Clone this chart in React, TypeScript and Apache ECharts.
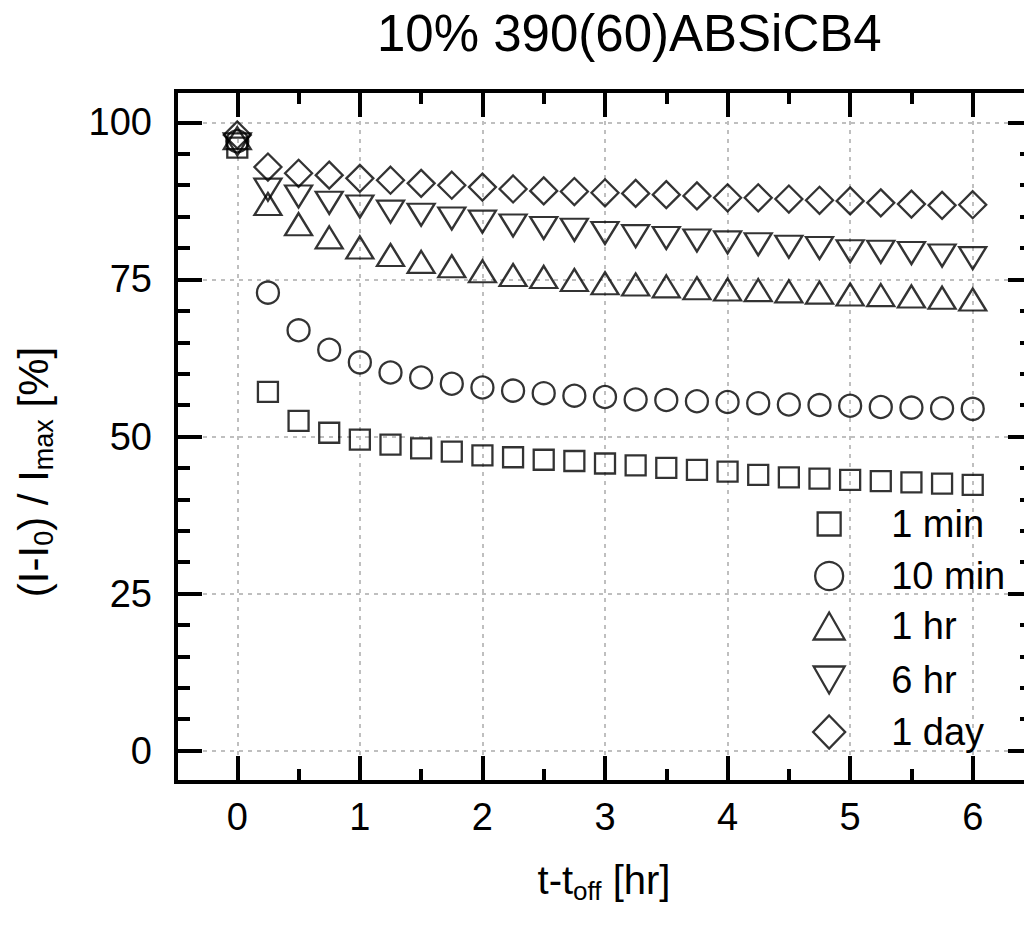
import React, { useEffect, useRef } from "react";
import * as echarts from "echarts";

// ---- data ----
const times = [0, 0.25, 0.5, 0.75, 1, 1.25, 1.5, 1.75, 2, 2.25, 2.5, 2.75, 3, 3.25, 3.5, 3.75, 4, 4.25, 4.5, 4.75, 5, 5.25, 5.5, 5.75, 6];
const oneMin = [96.0, 57.1, 52.5, 50.6, 49.5, 48.7, 48.1, 47.6, 47.0, 46.7, 46.3, 46.1, 45.7, 45.4, 45.0, 44.7, 44.4, 43.9, 43.5, 43.3, 43.1, 42.9, 42.7, 42.5, 42.3];
const tenMin = [97.0, 72.9, 66.9, 63.8, 61.8, 60.2, 59.4, 58.4, 57.8, 57.3, 56.9, 56.5, 56.3, 55.9, 55.8, 55.6, 55.5, 55.3, 55.1, 55.0, 54.9, 54.7, 54.6, 54.5, 54.4];
const oneHr = [97.5, 87.0, 83.8, 81.7, 80.1, 78.9, 77.8, 77.1, 76.3, 75.7, 75.4, 74.9, 74.4, 74.2, 73.9, 73.6, 73.4, 73.3, 73.1, 72.9, 72.6, 72.5, 72.3, 72.1, 71.8];
const sixHr = [96.5, 89.3, 88.2, 87.2, 86.6, 85.8, 85.3, 84.7, 84.2, 83.6, 83.2, 82.9, 82.4, 81.9, 81.6, 81.2, 80.9, 80.6, 80.2, 80.0, 79.5, 79.4, 79.2, 78.8, 78.4];
const oneDay = [98.0, 92.9, 91.9, 91.6, 91.1, 90.8, 90.3, 90.0, 89.7, 89.4, 89.1, 89.0, 88.8, 88.7, 88.5, 88.3, 88.0, 88.0, 87.8, 87.6, 87.5, 87.2, 87.0, 86.8, 86.9];
const seriesNames = ["1 min", "10 min", "1 hr", "6 hr", "1 day"];
const xTicks = [0, 1, 2, 3, 4, 5, 6];
const yTicks = [0, 25, 50, 75, 100];
const titleText = "10% 390(60)ABSiCB4";

// ---- axis ranges ----
const X_MIN = -0.5, X_MAX = 6.5, Y_MIN = -5, Y_MAX = 105;

const FONT = "'Liberation Sans', Arial, Helvetica, sans-serif";

export default function App() {
  const ref = useRef<HTMLDivElement>(null);
  useEffect(() => {
    if (!ref.current) return;
    const chart = echarts.init(ref.current, null, { renderer: "svg" });

    // frame grid geometry
    const GL = 176, GT = 91, GW = 858, GH = 691;
    const pxX = GW / (X_MAX - X_MIN);
    const pxY = GH / (Y_MAX - Y_MIN);
    const tickMinX = xTicks[0], tickMaxX = xTicks[xTicks.length - 1];
    const tickMinY = yTicks[0], tickMaxY = yTicks[yTicks.length - 1];
    const g2Left = GL + (tickMinX - X_MIN) * pxX;
    const g2W = (tickMaxX - tickMinX) * pxX;
    const g2Top = GT + (Y_MAX - tickMaxY) * pxY;
    const g2H = (tickMaxY - tickMinY) * pxY;
    const offX = (tickMinX - X_MIN) * pxX; // horizontal offset to frame
    const offY = (Y_MAX - tickMaxY) * pxY; // vertical offset to frame

    const tickStyle = { color: "#000", width: 4 };
    const xMajor = {
      type: "value", gridIndex: 1, min: tickMinX, max: tickMaxX, interval: 1, z: 5,
      axisLine: { show: false, onZero: false },
      axisTick: { show: true, inside: true, length: 26, lineStyle: tickStyle },
      minorTick: { show: true, splitNumber: 2, length: 13, lineStyle: tickStyle },
      splitLine: { show: false },
    };
    const yMajor = {
      type: "value", gridIndex: 1, min: tickMinY, max: tickMaxY, interval: 25, z: 5,
      axisLine: { show: false, onZero: false },
      axisTick: { show: true, inside: true, length: 26, lineStyle: tickStyle },
      minorTick: { show: true, splitNumber: 5, length: 14, lineStyle: tickStyle },
      splitLine: { show: false },
    };

    const markerStyle = { color: "transparent", borderColor: "#000", borderWidth: 2.3 };
    const dataSets = [oneMin, tenMin, oneHr, sixHr, oneDay];
    const symbols = ["rect", "circle", "triangle", "triangle", "diamond"];
    const sizes: any[] = [20, 22, [27, 22], [27, 22], [27, 27]];
    const rotates = [0, 0, 0, 180, 0];

    const series: any[] = dataSets.map((vals, i) => ({
      type: "scatter",
      name: seriesNames[i],
      xAxisIndex: 0,
      yAxisIndex: 0,
      symbol: symbols[i],
      symbolSize: sizes[i],
      symbolRotate: rotates[i],
      itemStyle: markerStyle,
      data: times.map((t, k) => [t, vals[k]]),
      clip: false,
      z: 3,
    }));
    series[0].markLine = {
      silent: true,
      symbol: ["none", "none"],
      label: { show: false },
      lineStyle: { color: "#bfbfbf", type: [4, 5], width: 2 },
      data: [
        ...xTicks.map((v) => ({ xAxis: v })),
        ...yTicks.map((v) => ({ yAxis: v })),
      ],
      z: 1,
    };

    // legends: one per item to control icon sizes
    const legCx = 828, legTextX = 890;
    const legCy = [525, 577, 627, 681, 733];
    const legIcons = ["rect", "circle", "triangle", "path://M0,0L31,0L15.5,27Z", "diamond"];
    const legSizes = [[23, 23], [28, 28], [31, 27], [31, 27], [32, 33]];
    const legends = seriesNames.map((name, i) => {
      const [w, h] = legSizes[i];
      const gap = legTextX - (legCx + w / 2) - 5;
      return {
        data: [{ name, icon: legIcons[i] }],
        orient: "vertical",
        left: legCx - w / 2,
        top: legCy[i] - 20,
        padding: 0,
        itemWidth: w,
        itemHeight: h,
        selectedMode: false,
        itemStyle: { color: "transparent", borderColor: "#000", borderWidth: 2.3 },
        formatter: (n: string) => `{g| }{t|${n}}`,
        textStyle: {
          color: "#000",
          fontSize: 38,
          fontFamily: FONT,
          rich: {
            g: { width: gap, fontSize: 38, lineHeight: 40 },
            t: { fontSize: 38, lineHeight: 40, fontFamily: FONT, color: "#000" },
          },
        },
      };
    });

    const option: any = {
      animation: false,
      backgroundColor: "#fff",
      title: {
        text: titleText,
        left: 377,
        top: 8,
        padding: 0,
        textStyle: { fontSize: 51, fontWeight: "normal", color: "#000", fontFamily: FONT },
      },
      legend: legends,
      grid: [
        { left: GL, top: GT, width: GW, height: GH, show: true, borderColor: "#000", borderWidth: 4, backgroundColor: "transparent" },
        { left: g2Left, top: g2Top, width: g2W, height: g2H, show: false },
      ],
      xAxis: [
        { type: "value", gridIndex: 0, min: X_MIN, max: X_MAX, show: false },
        {
          ...xMajor, position: "bottom", offset: offY,
          axisLabel: { show: true, fontSize: 38, color: "#000", fontFamily: FONT, margin: 16 },
        },
        { ...xMajor, position: "top", offset: offY, axisLabel: { show: false } },
      ],
      yAxis: [
        { type: "value", gridIndex: 0, min: Y_MIN, max: Y_MAX, show: false },
        {
          ...yMajor, position: "left", offset: offX,
          axisLabel: { show: true, fontSize: 38, color: "#000", fontFamily: FONT, margin: 24 },
        },
        { ...yMajor, position: "right", offset: offX, axisLabel: { show: false } },
      ],
      graphic: [
        {
          type: "text",
          x: 604,
          y: 880,
          z: 10,
          style: {
            text: "{m|t-t}{s|off}{m| [hr]}",
            align: "center",
            verticalAlign: "middle",
            fill: "#000",
            rich: {
              m: { fontSize: 40, lineHeight: 48, fontFamily: FONT, fill: "#000", verticalAlign: "middle" },
              s: { fontSize: 26, lineHeight: 22, fontFamily: FONT, fill: "#000", verticalAlign: "bottom" },
            },
          },
        },
        {
          type: "text",
          x: 33,
          y: 472,
          rotation: Math.PI / 2,
          z: 10,
          style: {
            text: "{m|(I-I}{s|0}{m|) / I}{s|max}{m| [%]}",
            align: "center",
            verticalAlign: "middle",
            fill: "#000",
            rich: {
              m: { fontSize: 42, lineHeight: 48, fontFamily: FONT, fill: "#000", verticalAlign: "middle" },
              s: { fontSize: 27, lineHeight: 22, fontFamily: FONT, fill: "#000", verticalAlign: "bottom" },
            },
          },
        },
      ],
      series,
    };
    chart.setOption(option);
    return () => chart.dispose();
  }, []);

  return (
    <div style={{ position: "absolute", left: 0, top: 0, width: 1024, height: 932, overflow: "hidden", background: "#fff" }}>
      <div ref={ref} style={{ width: 1060, height: 932 }} />
    </div>
  );
}
